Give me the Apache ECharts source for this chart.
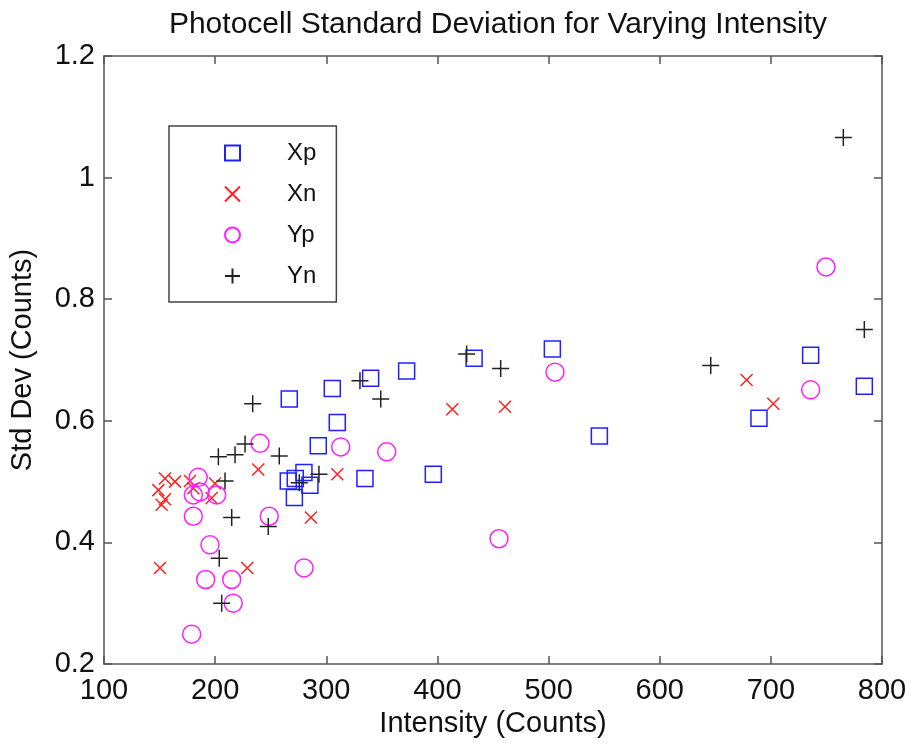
<!DOCTYPE html>
<html>
<head>
<meta charset="utf-8">
<script src="https://cdn.jsdelivr.net/npm/echarts@6/dist/echarts.min.js"></script>
<style>
  html, body { margin: 0; padding: 0; background: #fff; }
  #chart { width: 911px; height: 744px; }
</style>
</head>
<body>
<div id="chart"></div>
<script>
// intensity / std dev pairs
const xp = [
  [503.4, 0.718], [545.7, 0.575], [689.3, 0.604], [735.8, 0.708], [784.1, 0.657],
  [433.0, 0.703], [372.3, 0.682], [396.3, 0.512], [339.9, 0.670], [305.4, 0.653],
  [266.7, 0.636], [309.9, 0.597], [292.8, 0.559], [279.9, 0.515], [334.8, 0.505],
  [265.8, 0.501], [272.1, 0.505], [285.3, 0.494], [271.3, 0.474]
]
const xn = [
  [678.2, 0.667], [702.2, 0.628], [413.4, 0.619], [460.8, 0.623], [238.8, 0.520],
  [309.9, 0.512], [286.2, 0.441], [154.9, 0.505], [163.9, 0.500], [148.9, 0.486],
  [154.9, 0.471], [151.9, 0.462], [177.4, 0.501], [199.9, 0.497], [196.9, 0.473],
  [180.4, 0.489], [150.4, 0.358], [228.9, 0.358]
]
const yp = [
  [749.6, 0.853], [505.8, 0.680], [735.8, 0.651], [455.4, 0.406], [240.4, 0.563],
  [313.0, 0.557], [354.4, 0.549], [248.7, 0.443], [184.8, 0.507], [180.4, 0.478],
  [186.4, 0.483], [201.4, 0.478], [180.4, 0.443], [195.4, 0.396], [191.5, 0.339],
  [214.9, 0.339], [216.3, 0.300], [178.9, 0.249], [280.0, 0.358]
]
const yn = [
  [765.2, 1.066], [784.1, 0.750], [645.9, 0.691], [426.3, 0.710], [456.9, 0.686],
  [330.3, 0.666], [349.0, 0.636], [233.8, 0.628], [257.7, 0.542], [293.4, 0.512],
  [275.7, 0.498], [247.8, 0.426], [226.9, 0.562], [202.9, 0.541], [217.9, 0.544],
  [208.9, 0.501], [203.7, 0.374], [205.9, 0.300], [214.9, 0.441]
]

const FONT = '"Liberation Sans", Arial, sans-serif'
const CROSS = 'path://M0,0L10,10M10,0L0,10'
const PLUS = 'path://M5,0L5,10M0,5L10,5'

const chart = echarts.init(document.getElementById('chart'))

const axisLine = { show: true, lineStyle: { color: '#555', width: 1.5 } }
const axisTick = { show: true, inside: true, length: 8, lineStyle: { color: '#555', width: 1.5 } }

function mark(name, data, symbol, size, color) {
  return {
    name,
    type: 'scatter',
    data,
    symbol,
    symbolSize: size,
    itemStyle: { color: 'transparent', borderColor: color, borderWidth: 1.5, opacity: 1 },
    emphasis: { disabled: true }
  }
}

chart.setOption({
  animation: false,
  title: {
    text: 'Photocell Standard Deviation for Varying Intensity',
    left: 493,
    textAlign: 'center',
    top: 5,
    textStyle: { fontFamily: FONT, fontSize: 30, fontWeight: 'normal', color: '#111' }
  },
  grid: { left: 104, right: 29, top: 56, bottom: 80 },
  legend: {
    orient: 'vertical',
    left: 169,
    top: 126,
    padding: [15, 20, 14, 55],
    itemGap: 17,
    itemWidth: 15,
    itemHeight: 15,
    borderColor: '#444',
    borderWidth: 1.5,
    textStyle: { fontFamily: FONT, fontSize: 24, color: '#111', padding: [0, 0, 0, 42] },
    data: ['Xp', 'Xn', 'Yp', 'Yn']
  },
  xAxis: [
    {
      type: 'value', min: 100, max: 800, interval: 100,
      name: 'Intensity (Counts)', nameLocation: 'middle', nameGap: 43,
      nameTextStyle: { fontFamily: FONT, fontSize: 29, color: '#111' },
      axisLine, axisTick,
      axisLabel: { fontFamily: FONT, fontSize: 29, color: '#111', margin: 12 },
      splitLine: { show: false }
    },
    {
      type: 'value', min: 100, max: 800, interval: 100, position: 'top',
      axisLine, axisTick, axisLabel: { show: false }, splitLine: { show: false }
    }
  ],
  yAxis: [
    {
      type: 'value', min: 0.2, max: 1.2, interval: 0.2,
      name: 'Std Dev (Counts)', nameLocation: 'middle', nameGap: 67,
      nameTextStyle: { fontFamily: FONT, fontSize: 29, color: '#111' },
      axisLine, axisTick,
      axisLabel: { fontFamily: FONT, fontSize: 29, color: '#111', margin: 9 },
      splitLine: { show: false }
    },
    {
      type: 'value', min: 0.2, max: 1.2, interval: 0.2, position: 'right',
      axisLine, axisTick, axisLabel: { show: false }, splitLine: { show: false }
    }
  ],
  series: [
    mark('Xp', xp, 'rect', 16, '#2020ff'),
    mark('Xn', xn, CROSS, 12, '#ff2020'),
    mark('Yp', yp, 'circle', 18, '#ff20ff'),
    mark('Yn', yn, PLUS, 17, '#222')
  ]
})
</script>
</body>
</html>
